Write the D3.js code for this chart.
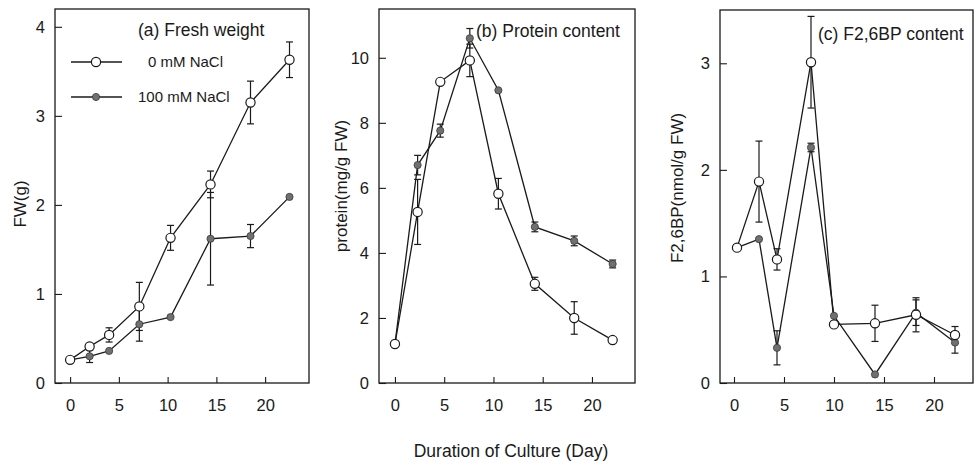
<!DOCTYPE html>
<html>
<head>
<meta charset="utf-8">
<script src="https://cdn.jsdelivr.net/npm/d3@7"></script>
<style>
  body { margin: 0; background: #fff; }
  svg { display: block; font-family: 'Liberation Sans', Arial, sans-serif; }
</style>
</head>
<body>
<svg id="chart" width="975" height="463"></svg>
<script>
// days of culture, read per panel (the scan is slightly skewed)
const dayA = [0, 2, 4, 7.1, 10.3, 14.4, 18.5, 22.5];
const dayB = [0, 2.3, 4.6, 7.6, 10.5, 14.2, 18.2, 22.1];
const dayC = [0.3, 2.5, 4.3, 7.7, 10.0, 14.1, 18.2, 22.1];

// (a) fresh weight, g
const fwCtrl = [0.26, 0.41, 0.54, 0.86, 1.63, 2.23, 3.15, 3.63];
const fwCtrlErr = [0, 0, 0.08, 0.27, 0.14, 0.15, 0.24, 0.20];
const fwSalt = [0.26, 0.30, 0.36, 0.66, 0.74, 1.62, 1.65, 2.09];
const fwSaltErr = [0, 0.07, 0, 0.19, 0, 0.52, 0.13, 0];

// (b) protein, mg/g FW
const protCtrl = [1.2, 5.26, 9.26, 9.92, 5.82, 3.05, 2.0, 1.32];
const protCtrlErr = [0, 1.0, 0, 0.5, 0.47, 0.2, 0.5, 0];
const protSalt = [1.2, 6.7, 7.76, 10.6, 9.0, 4.8, 4.37, 3.66];
const protSaltErr = [0, 0.3, 0.2, 0.3, 0, 0.15, 0.15, 0.12];

// (c) F2,6BP, nmol/g FW
const f26Ctrl = [1.27, 1.89, 1.16, 3.01, 0.55, 0.56, 0.64, 0.45];
const f26CtrlErr = [0, 0.38, 0.1, 0.43, 0, 0.17, 0.16, 0.08];
const f26Salt = [1.27, 1.35, 0.33, 2.21, 0.63, 0.08, 0.66, 0.38];
const f26SaltErr = [0, 0, 0.16, 0.04, 0, 0, 0.12, 0.1];

const xTicks = [0, 5, 10, 15, 20];
const seriesNames = ['0 mM NaCl', '100 mM NaCl'];

const svg = d3.select('#chart');
const ink = '#1a1a1a';

const panels = [
	{
		title: '(a) Fresh weight', yLabel: 'FW(g)',
		left: 55, right: 309, top: 9, bottom: 383,
		xDomain: [-1.55, 24.5], yDomain: [0, 4.2], yTicks: [0, 1, 2, 3, 4],
		days: dayA, ctrl: fwCtrl, ctrlErr: fwCtrlErr, salt: fwSalt, saltErr: fwSaltErr,
		titleX: 138, titleY: 36, labelX: 26, labelY: 204
	},
	{
		title: '(b) Protein content', yLabel: 'protein(mg/g FW)',
		left: 379, right: 635, top: 9, bottom: 383,
		xDomain: [-1.62, 24.37], yDomain: [0, 11.5], yTicks: [0, 2, 4, 6, 8, 10],
		days: dayB, ctrl: protCtrl, ctrlErr: protCtrlErr, salt: protSalt, saltErr: protSaltErr,
		titleX: 476, titleY: 37, labelX: 347, labelY: 186
	},
	{
		title: '(c) F2,6BP content', yLabel: 'F2,6BP(nmol/g FW)',
		left: 720, right: 973, top: 10, bottom: 383,
		xDomain: [-1.4, 23.9], yDomain: [0, 3.5], yTicks: [0, 1, 2, 3],
		days: dayC, ctrl: f26Ctrl, ctrlErr: f26CtrlErr, salt: f26Salt, saltErr: f26SaltErr,
		titleX: 818, titleY: 40, labelX: 683, labelY: 188
	}
];

const drawPanel = (p) => {
	const x = d3.scaleLinear().domain(p.xDomain).range([p.left, p.right]);
	const y = d3.scaleLinear().domain(p.yDomain).range([p.bottom, p.top]);
	const g = svg.append('g');

	// axes with inward ticks
	const xAxis = g.append('g')
		.attr('transform', `translate(0,${p.bottom})`)
		.call(d3.axisBottom(x).tickValues(xTicks).tickFormat(d3.format('d'))
			.tickSizeInner(-6).tickSizeOuter(0).tickPadding(16));
	const yAxis = g.append('g')
		.attr('transform', `translate(${p.left},0)`)
		.call(d3.axisLeft(y).tickValues(p.yTicks).tickFormat(d3.format('d'))
			.tickSizeInner(-7).tickSizeOuter(0).tickPadding(10));
	[xAxis, yAxis].forEach((a) => {
		a.select('.domain').remove();
		a.selectAll('line').attr('stroke', ink).attr('stroke-width', 1.1);
		a.selectAll('text').attr('fill', ink).attr('font-size', 16.5)
			.attr('font-family', "'Liberation Sans', Arial, sans-serif");
	});

	// frame
	g.append('rect')
		.attr('x', p.left).attr('y', p.top)
		.attr('width', p.right - p.left).attr('height', p.bottom - p.top)
		.attr('fill', 'none').attr('stroke', ink).attr('stroke-width', 1.3);

	const line = d3.line().x((d) => x(d[0])).y((d) => y(d[1]));
	const series = [
		{ vals: p.salt, err: p.saltErr, open: false },
		{ vals: p.ctrl, err: p.ctrlErr, open: true }
	];

	series.forEach((s) => {
		const pts = p.days.map((d, i) => [d, s.vals[i], s.err[i]]);
		g.append('path')
			.datum(pts)
			.attr('d', line)
			.attr('fill', 'none')
			.attr('stroke', ink)
			.attr('stroke-width', 1.3);

		const eb = g.selectAll(null)
			.data(pts.filter((d) => d[2] > 0))
			.enter()
			.append('g')
			.attr('stroke', ink)
			.attr('stroke-width', 1.2);
		eb.append('line')
			.attr('x1', (d) => x(d[0])).attr('x2', (d) => x(d[0]))
			.attr('y1', (d) => y(d[1] - d[2])).attr('y2', (d) => y(d[1] + d[2]));
		[-1, 1].forEach((sgn) => {
			eb.append('line')
				.attr('x1', (d) => x(d[0]) - 3.5).attr('x2', (d) => x(d[0]) + 3.5)
				.attr('y1', (d) => y(d[1] + sgn * d[2])).attr('y2', (d) => y(d[1] + sgn * d[2]));
		});
	});

	series.forEach((s) => {
		g.selectAll(null)
			.data(p.days.map((d, i) => [d, s.vals[i]]))
			.enter()
			.append('circle')
			.attr('cx', (d) => x(d[0]))
			.attr('cy', (d) => y(d[1]))
			.attr('r', s.open ? 4.6 : 3.6)
			.attr('fill', s.open ? '#fff' : '#707070')
			.attr('stroke', s.open ? ink : '#3a3a3a')
			.attr('stroke-width', s.open ? 1.2 : 0.8);
	});

	g.append('text')
		.attr('x', p.titleX).attr('y', p.titleY)
		.attr('font-size', 17.5).attr('fill', ink)
		.text(p.title);

	g.append('text')
		.attr('transform', `translate(${p.labelX},${p.labelY}) rotate(-90)`)
		.attr('text-anchor', 'middle')
		.attr('font-size', 17).attr('fill', ink)
		.text(p.yLabel);
};

panels.forEach(drawPanel);

// legend in panel (a)
const legendRows = [
	{ y: 62, textX: 148, open: true },
	{ y: 97, textX: 138, open: false }
];
const legend = svg.append('g');
legendRows.forEach((r, i) => {
	legend.append('line')
		.attr('x1', 71).attr('x2', 122).attr('y1', r.y).attr('y2', r.y)
		.attr('stroke', ink).attr('stroke-width', 1.3);
	legend.append('circle')
		.attr('cx', 96).attr('cy', r.y)
		.attr('r', r.open ? 4.6 : 3.6)
		.attr('fill', r.open ? '#fff' : '#707070')
		.attr('stroke', r.open ? ink : '#3a3a3a')
		.attr('stroke-width', r.open ? 1.2 : 0.8);
	legend.append('text')
		.attr('x', r.textX).attr('y', r.y + 5)
		.attr('font-size', 15).attr('fill', ink)
		.text(seriesNames[i]);
});

svg.append('text')
	.attr('x', 511).attr('y', 457)
	.attr('text-anchor', 'middle')
	.attr('font-size', 17.5).attr('fill', ink)
	.text('Duration of Culture (Day)');
</script>
</body>
</html>
